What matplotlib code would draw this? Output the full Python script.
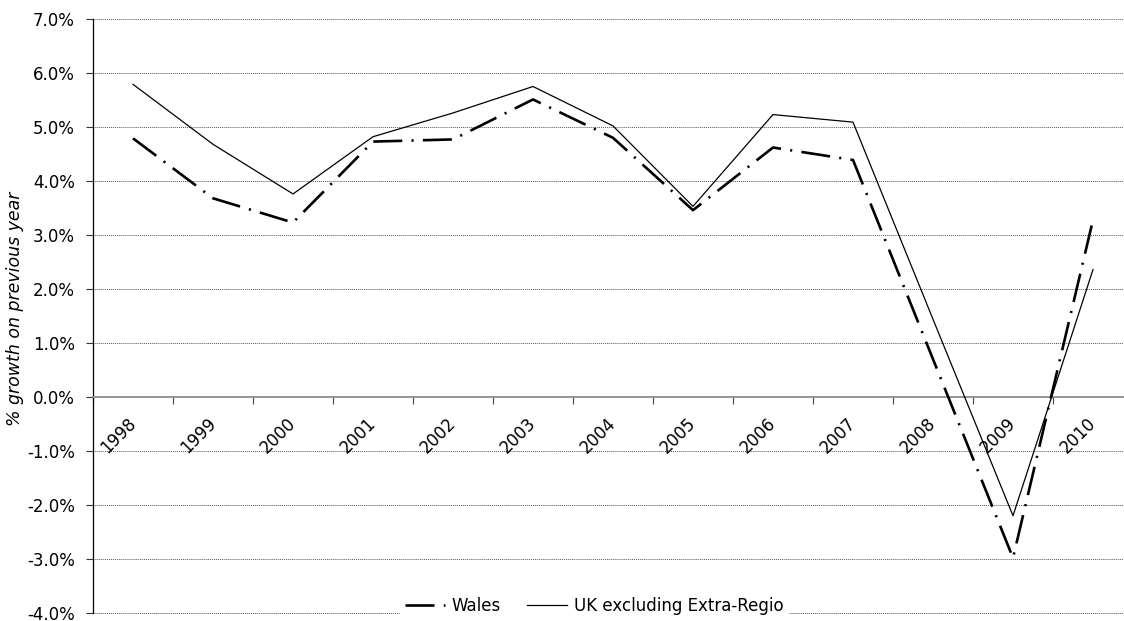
import matplotlib
matplotlib.use("Agg")
import matplotlib.pyplot as plt
from matplotlib.ticker import FuncFormatter, FixedLocator

years = ["1998", "1999", "2000", "2001", "2002", "2003", "2004",
         "2005", "2006", "2007", "2008", "2009", "2010"]
wales = [4.79, 3.68, 3.23, 4.73, 4.77, 5.51, 4.80, 3.46, 4.62, 4.39, 0.70, -2.98, 3.28]
uk_ex_extra_regio = [5.79, 4.68, 3.76, 4.82, 5.26, 5.75, 5.02, 3.53, 5.23, 5.09, 1.44, -2.20, 2.36]

W, H = 1124, 621
fig = plt.figure(figsize=(W / 100, H / 100), dpi=100)
plt.rcParams["font.family"] = ["DejaVu Sans"]

left, right, top, bottom = 93, 1133, 19, 613
ax = fig.add_axes([left / W, (H - bottom) / H, (right - left) / W, (bottom - top) / H])

x = list(range(len(years)))
wales_line, = ax.plot(x, wales, color="black", lw=1.9, label="Wales", zorder=3)
wales_line.set_dashes([11.0, 3.5, 0.8, 3.5])
ax.plot(x, uk_ex_extra_regio, color="black", lw=0.9, label="UK excluding Extra-Regio", zorder=3)

ax.set_xlim(-0.5, len(years) - 0.5)
ax.set_ylim(-4, 7)

# y axis: percent ticks every 1%, dotted horizontal gridlines
yticks = list(range(-4, 8))
ax.set_yticks(yticks)
ax.yaxis.set_major_formatter(FuncFormatter(lambda v, p: f"{v:.1f}%"))
ax.tick_params(axis="y", direction="out", length=5, width=0.8, color="#333333",
               labelsize=12, pad=8)
for yv in yticks:
    if yv != 0:
        ax.axhline(yv, linestyle=(0, (1, 1)), color="#555555", lw=0.7,
                   clip_on=False, zorder=1)

# x axis sits at zero with ticks between categories
ax.spines["bottom"].set_position(("data", 0))
ax.spines["bottom"].set_color("#8c8c8c")
ax.spines["bottom"].set_linewidth(1.3)
ax.spines["top"].set_visible(False)
ax.spines["right"].set_visible(False)
ax.spines["left"].set_color("black")
ax.spines["left"].set_linewidth(0.9)

ax.set_xticks(x)
ax.set_xticklabels(years, rotation=45, ha="right", va="center", rotation_mode="anchor")
ax.tick_params(axis="x", which="major", length=0, labelsize=12, pad=17)
ax.xaxis.set_minor_locator(FixedLocator([i + 0.5 for i in range(-1, len(years))]))
ax.tick_params(axis="x", which="minor", direction="out", length=5, width=0.8, color="#444444")

fig.text(15 / W, 1 - 309 / H, "% growth on previous year", rotation=90,
         ha="center", va="center", fontsize=12.5, style="italic")

leg = fig.legend(loc="center", bbox_to_anchor=(594 / W, 15 / H), ncol=2,
                 frameon=True, fontsize=12, handlelength=2.4, columnspacing=1.6,
                 borderpad=0.3, handletextpad=0.4)
leg.get_frame().set_facecolor("white")
leg.get_frame().set_edgecolor("white")
leg.get_frame().set_alpha(1)
leg.set_zorder(5)

fig.savefig("out.png", dpi=100)
